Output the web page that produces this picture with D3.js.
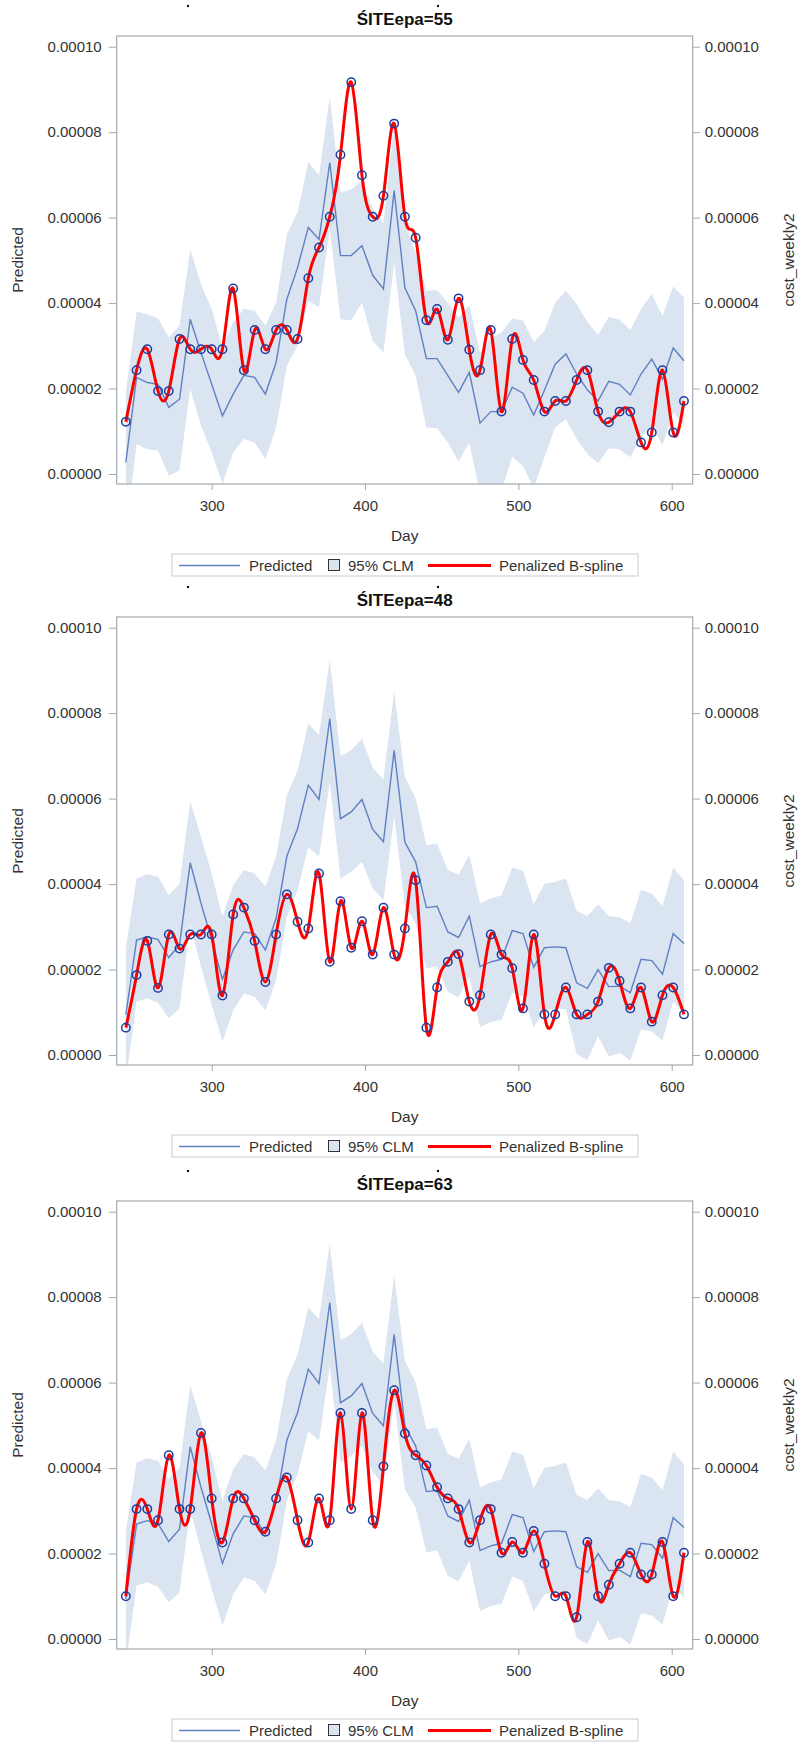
<!DOCTYPE html>
<html>
<head>
<meta charset="utf-8">
<script src="https://cdn.jsdelivr.net/npm/d3@7/dist/d3.min.js"></script>
<style>
  body { margin: 0; background: #fff; }
  svg text { font-family: "Liberation Sans", Arial, sans-serif; fill: #333; }
</style>
</head>
<body>
<svg id="chart" width="801" height="1752"></svg>
<script>
// Study days (weekly observations)
const days = [244,251,258,265,272,279,286,293,300,307,314,321,328,335,342,349,356,363,370,377,
              384,391,398,405,412,419,426,433,440,447,454,461,468,475,482,489,496,503,510,517,
              524,531,538,545,552,559,566,573,580,587,594,601,608];

// All values below are in units of 1e-5
// Site 55
const obs55 = [1.22,2.43,2.92,1.94,1.94,3.16,2.92,2.92,2.92,2.92,4.34,2.43,3.37,2.92,3.37,3.37,3.16,4.58,5.30,6.02,
               7.47,9.17,6.99,6.02,6.51,8.20,6.02,5.53,3.60,3.86,3.14,4.11,2.91,2.43,3.37,1.46,3.16,2.67,2.20,1.46,
               1.71,1.71,2.20,2.43,1.46,1.21,1.46,1.46,0.74,0.97,2.43,0.97,1.71];
const pred55 = [0.27,2.26,2.14,2.10,1.56,1.75,3.62,2.84,2.10,1.36,1.87,2.31,2.26,1.87,2.61,4.09,4.83,5.77,5.49,7.29,
                5.11,5.11,5.34,4.65,4.33,6.63,4.36,3.82,2.70,2.70,2.30,1.91,2.38,1.19,1.46,1.46,2.03,1.89,1.38,1.96,
                2.57,2.81,2.34,1.97,1.71,2.17,2.10,1.85,2.34,2.69,2.22,2.95,2.65];
const upper55 = [1.9,3.80,3.74,3.64,3.20,3.47,5.26,4.44,3.86,2.95,3.55,3.87,3.82,3.47,4.01,5.61,6.12,7.30,6.99,8.81,
                 6.59,6.66,6.87,6.20,5.88,8.18,5.90,5.18,4.29,4.30,4.01,3.66,3.95,2.84,3.17,3.31,3.64,3.59,3.09,3.35,
                 4.01,4.29,3.98,3.56,3.25,3.68,3.61,3.37,3.86,4.21,3.70,4.39,4.13];
const lower55 = [-1.4,0.70,0.58,0.55,-0.04,0.08,1.99,1.13,0.51,-0.23,0.51,0.82,0.74,0.35,1.09,2.53,3.00,4.05,3.90,5.73,
                 3.62,3.59,4.01,3.12,2.84,4.95,2.80,2.30,1.09,1.07,0.74,0.29,0.74,-0.46,-0.25,-0.39,0.41,0.19,-0.33,0.39,
                 1.09,1.29,0.82,0.47,0.26,0.60,0.58,0.39,0.86,1.13,0.68,1.44,1.13];

// Sites 48 and 63 share the same model prediction
const predB = [0.94,2.69,2.77,2.70,2.28,2.57,4.50,3.55,2.69,1.77,2.46,2.88,2.84,2.46,3.20,4.65,5.30,6.31,5.98,7.87,
               5.53,5.69,5.98,5.28,4.99,7.13,4.98,4.52,3.45,3.48,2.88,2.75,3.25,2.07,2.18,2.24,2.91,2.84,2.05,2.51,
               2.53,2.51,1.69,1.56,2.00,1.60,1.61,1.46,2.24,2.21,1.89,2.84,2.61];
const upperB = [2.5,4.13,4.23,4.17,3.74,4.01,5.94,5.11,4.25,3.23,3.97,4.33,4.25,3.94,4.64,6.08,6.66,7.76,7.48,9.25,
                6.99,7.13,7.40,6.73,6.45,8.50,6.50,6.00,4.91,4.95,4.33,4.22,4.68,3.55,3.66,3.74,4.39,4.31,3.53,4.00,
                4.05,4.13,3.37,3.25,3.53,3.25,3.22,3.09,3.87,3.78,3.48,4.39,4.09];
const lowerB = [-0.6,1.25,1.33,1.22,0.86,1.09,3.04,2.07,1.17,0.31,1.05,1.44,1.36,1.05,1.75,3.23,3.86,4.87,4.64,6.39,
                4.13,4.29,4.52,3.90,3.62,5.59,3.50,3.08,2.03,2.07,1.48,1.35,1.83,0.65,0.78,0.82,1.46,1.36,0.65,1.05,
                1.09,1.07,0.02,-0.12,0.44,-0.04,0.05,-0.13,0.60,0.55,0.34,1.25,0.97];

const obs48 = [0.64,1.87,2.67,1.57,2.82,2.49,2.82,2.82,2.82,1.39,3.29,3.45,2.67,1.71,2.82,3.76,3.12,2.96,4.25,2.18,
               3.60,2.51,3.13,2.35,3.45,2.35,2.96,4.09,0.64,1.58,2.18,2.36,1.25,1.40,2.82,2.35,2.03,1.09,2.82,0.95,
               0.95,1.58,0.95,0.95,1.25,2.04,1.73,1.09,1.58,0.78,1.40,1.58,0.95];
const obs63 = [1.00,3.04,3.04,2.78,4.30,3.04,3.04,4.82,3.29,2.26,3.29,3.29,2.78,2.51,3.29,3.78,2.78,2.26,3.29,2.78,
               5.29,3.04,5.29,2.78,4.04,5.82,4.81,4.30,4.06,3.55,3.29,3.04,2.26,2.78,3.04,2.02,2.27,2.02,2.53,1.76,
               1.00,1.00,0.51,2.27,1.00,1.27,1.76,2.02,1.51,1.51,2.27,1.00,2.02];

const siteTitles = ["ŚITEepa=55", "ŚITEepa=48", "ŚITEepa=63"];
const yTicks = [0, 2, 4, 6, 8, 10];
const xTicks = [300, 400, 500, 600];
const legendLabels = ["Predicted", "95% CLM", "Penalized B-spline"];

const panels = [
  { title: siteTitles[0], obs: obs55, pred: pred55, upper: upper55, lower: lower55, top: 0 },
  { title: siteTitles[1], obs: obs48, pred: predB, upper: upperB, lower: lowerB, top: 581 },
  { title: siteTitles[2], obs: obs63, pred: predB, upper: upperB, lower: lowerB, top: 1165 }
];

const C = {
  frame: "#a3a8ae",
  band: "#dbe4f1",
  pred: "#5f80c2",
  circle: "#1c3f9f",
  spline: "#ff0000"
};

const plot = { left: 116.7, right: 692.7, top: 36, bottom: 484 };
const x = d3.scaleLinear().domain([238.04, 613.7]).range([plot.left, plot.right]);
const y = d3.scaleLinear().domain([-0.234, 10.25]).range([plot.bottom, plot.top]);
const fmt = v => (v * 1e-5).toFixed(5);

const svg = d3.select("#chart");
svg.append("defs").append("clipPath").attr("id", "plotclip")
  .append("rect").attr("x", plot.left).attr("y", plot.top)
  .attr("width", plot.right - plot.left).attr("height", plot.bottom - plot.top);

panels.forEach(p => {
  const g = svg.append("g").attr("transform", `translate(0,${p.top})`);
  const rows = days.map((d, i) => ({ d, obs: p.obs[i], pred: p.pred[i], lo: p.lower[i], hi: p.upper[i] }));

  // title and stray marks above it
  g.append("text").attr("x", (plot.left + plot.right) / 2).attr("y", 25)
    .attr("text-anchor", "middle").style("font-size", "17px").style("font-weight", "bold")
    .style("fill", "#111").text(p.title);
  [188, 438].forEach(cx => g.append("circle").attr("cx", cx).attr("cy", 6).attr("r", 1.2).attr("fill", "#111"));

  const area = g.append("g").attr("clip-path", "url(#plotclip)");

  // 95% confidence band
  area.append("path").datum(rows)
    .attr("d", d3.area().x(r => x(r.d)).y0(r => y(r.lo)).y1(r => y(r.hi)))
    .attr("fill", C.band);

  // predicted line
  area.append("path").datum(rows)
    .attr("d", d3.line().x(r => x(r.d)).y(r => y(r.pred)))
    .attr("fill", "none").attr("stroke", C.pred).attr("stroke-width", 1.4);

  // penalized B-spline through observed values
  area.append("path").datum(rows)
    .attr("d", d3.line().curve(d3.curveNatural).x(r => x(r.d)).y(r => y(r.obs)))
    .attr("fill", "none").attr("stroke", C.spline).attr("stroke-width", 3)
    .attr("stroke-linejoin", "round");

  // observed values
  area.selectAll("circle.obs").data(rows).join("circle").attr("class", "obs")
    .attr("cx", r => x(r.d)).attr("cy", r => y(r.obs)).attr("r", 4.2)
    .attr("fill", "none").attr("stroke", C.circle).attr("stroke-width", 1.5);

  // axes
  const styleAxis = sel => {
    sel.select(".domain").remove();
    sel.selectAll(".tick line").attr("stroke", C.frame);
    sel.selectAll(".tick text").style("font-size", "15px").style("fill", "#333");
  };
  g.append("g").attr("transform", `translate(${plot.left},0)`)
    .call(d3.axisLeft(y).tickValues(yTicks).tickFormat(fmt).tickSize(8).tickPadding(7)).call(styleAxis);
  g.append("g").attr("transform", `translate(${plot.right},0)`)
    .call(d3.axisRight(y).tickValues(yTicks).tickFormat(fmt).tickSize(7).tickPadding(5)).call(styleAxis);
  g.append("g").attr("transform", `translate(0,${plot.bottom})`)
    .call(d3.axisBottom(x).tickValues(xTicks).tickFormat(d3.format("d")).tickSize(6).tickPadding(10)).call(styleAxis);

  // frame
  g.append("rect").attr("x", plot.left).attr("y", plot.top)
    .attr("width", plot.right - plot.left).attr("height", plot.bottom - plot.top)
    .attr("fill", "none").attr("stroke", C.frame).attr("stroke-width", 1.2);

  // axis labels
  g.append("text").attr("transform", `translate(22.5,${(plot.top + plot.bottom) / 2}) rotate(-90)`)
    .attr("text-anchor", "middle").style("font-size", "15.5px").text("Predicted");
  g.append("text").attr("transform", `translate(794,${(plot.top + plot.bottom) / 2}) rotate(-90)`)
    .attr("text-anchor", "middle").style("font-size", "15.5px").text("cost_weekly2");
  g.append("text").attr("x", (plot.left + plot.right) / 2).attr("y", 541)
    .attr("text-anchor", "middle").style("font-size", "15.5px").text("Day");

  // legend
  const lg = g.append("g");
  lg.append("rect").attr("x", 172).attr("y", 554).attr("width", 466).attr("height", 22)
    .attr("fill", "#fff").attr("stroke", "#c9cbcf").attr("stroke-width", 1);
  lg.append("line").attr("x1", 179).attr("x2", 240).attr("y1", 565.5).attr("y2", 565.5)
    .attr("stroke", C.pred).attr("stroke-width", 1.6);
  lg.append("text").attr("x", 249).attr("y", 571).style("font-size", "15px").text(legendLabels[0]);
  lg.append("rect").attr("x", 328.5).attr("y", 559.5).attr("width", 11).attr("height", 11)
    .attr("fill", C.band).attr("stroke", "#333").attr("stroke-width", 1);
  lg.append("text").attr("x", 348).attr("y", 571).style("font-size", "15px").text(legendLabels[1]);
  lg.append("line").attr("x1", 428).attr("x2", 491).attr("y1", 565.5).attr("y2", 565.5)
    .attr("stroke", C.spline).attr("stroke-width", 3);
  lg.append("text").attr("x", 499).attr("y", 571).style("font-size", "15px").text(legendLabels[2]);
});
</script>
</body>
</html>
